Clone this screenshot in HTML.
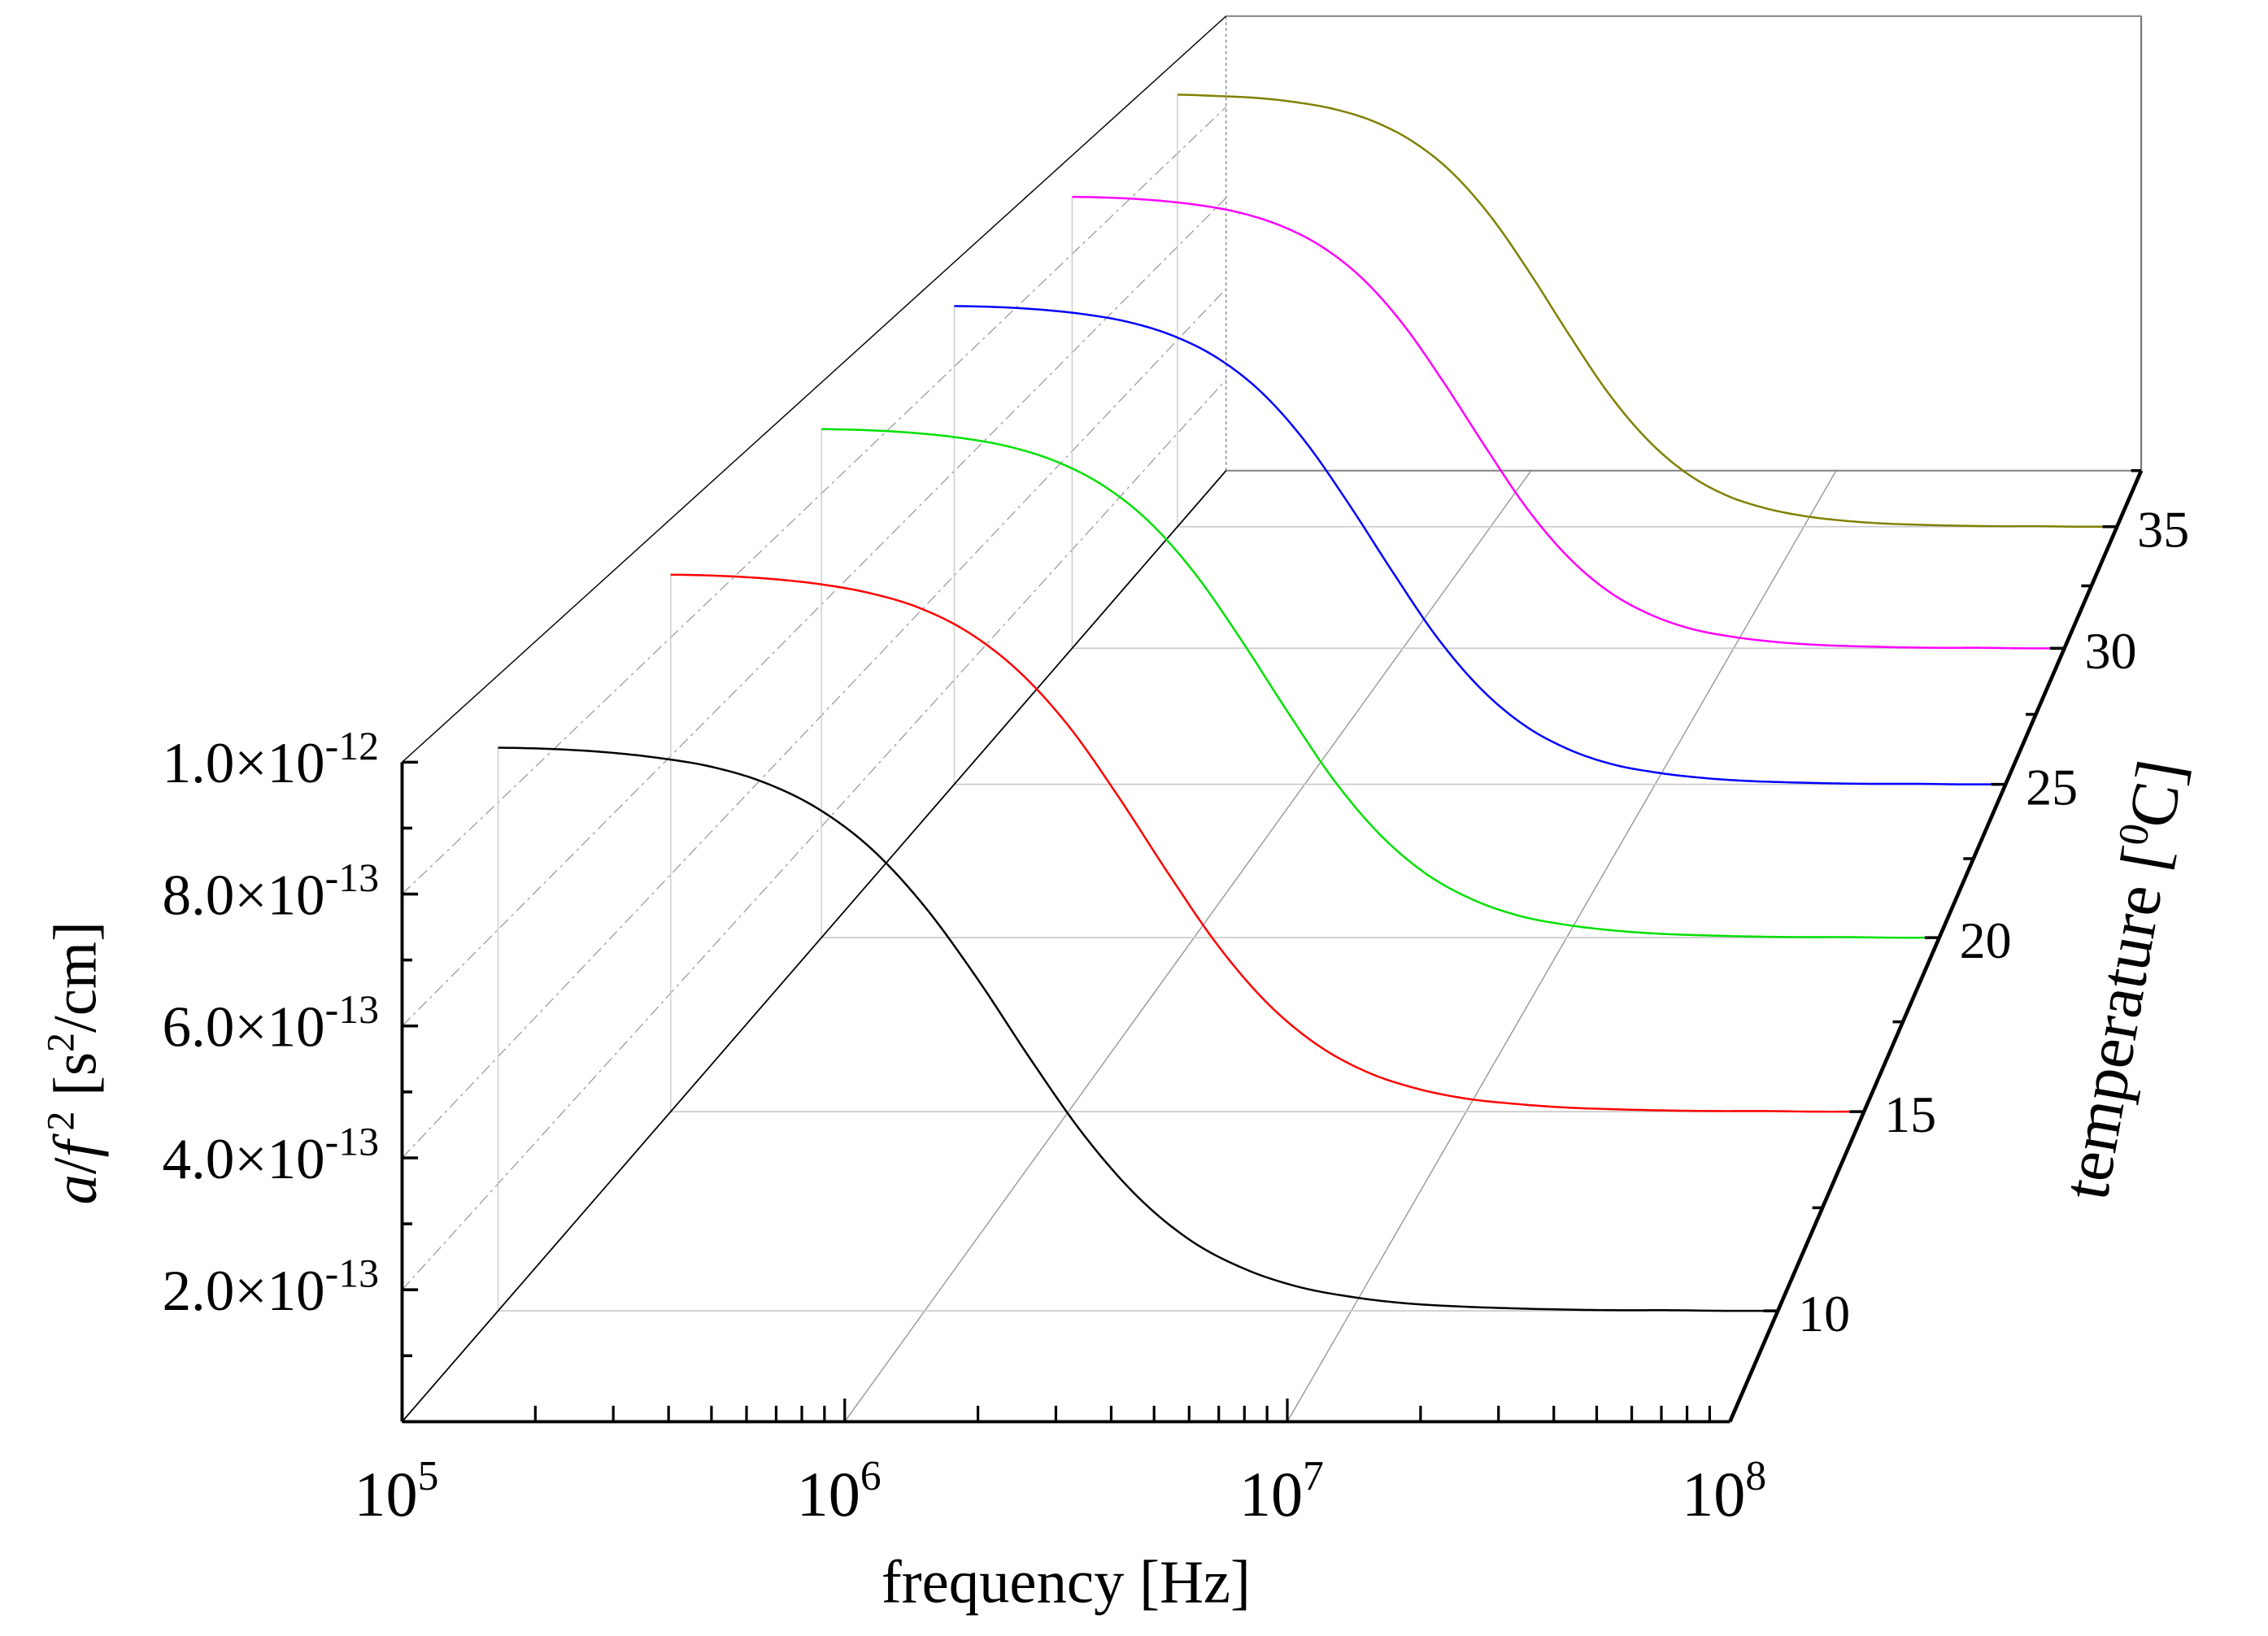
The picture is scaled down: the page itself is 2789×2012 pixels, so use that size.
<!DOCTYPE html>
<html><head><meta charset="utf-8"><style>
html,body{margin:0;padding:0;background:#fff;}
svg{display:block;}
text{font-family:"Liberation Serif",serif;fill:#000;font-style:normal;}
</style></head>
<body>
<svg id="chart" width="2789" height="2012" viewBox="0 0 1568 1131.2" preserveAspectRatio="none" xmlns="http://www.w3.org/2000/svg">
<g id="grid"></g>
<g id="frame"></g>
<g id="series"></g>
<g id="axes"></g>
<text x="737" y="1108" font-size="42" text-anchor="middle">frequency [Hz]</text>
<text transform="translate(66,735) rotate(-90)" font-size="42" text-anchor="middle"><tspan font-style="italic">a</tspan>/<tspan font-style="italic">f</tspan><tspan dy="-15" font-size="27"> 2</tspan><tspan dy="15"> [s</tspan><tspan dy="-15" font-size="27">2</tspan><tspan dy="15">/cm]</tspan></text>
<text transform="translate(1483,680) rotate(-80)" font-size="46" text-anchor="middle" font-style="normal">temperature [<tspan dy="-16" font-size="29">0</tspan><tspan dy="16">C]</tspan></text>
</svg>
<script>
// ---- data ----
const logFreq = [5.0,5.125,5.25,5.375,5.5,5.625,5.75,5.875,6.0,6.125,6.25,6.375,6.5,6.625,6.75,6.875,7.0,7.125,7.25,7.375,7.5,7.625,7.75,7.875,8.0];
const temperatures = [10,15,20,25,30,35];
const seriesColors = ["#000000","#ff0000","#00e000","#0000ff","#ff00ff","#808000"];
const seriesT10 = [8.86,8.84,8.79,8.70,8.56,8.31,7.90,7.27,6.36,5.21,3.94,2.75,1.79,1.10,0.66,0.38,0.22,0.12,0.07,0.04,0.02,0.01,0.01,0,0];
const seriesT15 = [9.06,9.04,8.99,8.90,8.75,8.50,8.08,7.43,6.51,5.32,4.03,2.81,1.83,1.13,0.67,0.39,0.22,0.13,0.07,0.04,0.02,0.01,0.01,0,0];
const seriesT20 = [9.16,9.14,9.09,9.00,8.85,8.59,8.17,7.52,6.58,5.38,4.08,2.84,1.85,1.14,0.68,0.39,0.23,0.13,0.07,0.04,0.02,0.01,0.01,0,0];
const seriesT25 = [9.16,9.14,9.09,9.00,8.85,8.59,8.17,7.52,6.58,5.38,4.08,2.84,1.85,1.14,0.68,0.39,0.23,0.13,0.07,0.04,0.02,0.01,0.01,0,0];
const seriesT30 = [9.16,9.14,9.09,9.00,8.85,8.59,8.17,7.52,6.58,5.38,4.08,2.84,1.85,1.14,0.68,0.39,0.23,0.13,0.07,0.04,0.02,0.01,0.01,0,0];
const seriesT35 = [9.26,9.23,9.19,9.10,8.95,8.69,8.26,7.60,6.65,5.44,4.12,2.87,1.87,1.15,0.68,0.40,0.23,0.13,0.07,0.04,0.02,0.01,0.01,0,0];
const yTickValues = [2,4,6,8,10];
const yTickLabels = ["2.0×10","4.0×10","6.0×10","8.0×10","1.0×10"];
const yTickExps = ["-13","-13","-13","-13","-12"];
const xDecades = [5,6,7,8];
const zTickLabels = ["10","15","20","25","30","35"];
// ---- axes ----
const NS="http://www.w3.org/2000/svg";
const VPX=2111, VPY=-1133, X0=278, XW=306, Y0=983, YH=456, TMIN=7.5, TMAX=37.5, K=0.01503;
function sc(T){return 1/(1+(T-TMIN)*K);}
function P(lf,v,T){const xf=X0+(lf-5)*XW, yf=Y0-v/10*YH, s=sc(T);return [VPX+s*(xf-VPX), VPY+s*(yf-VPY)];}
function mk(parent,tag,attrs){const e=document.createElementNS(NS,tag);for(const k in attrs)e.setAttribute(k,attrs[k]);parent.appendChild(e);return e;}
const grid=document.getElementById('grid'), frame=document.getElementById('frame'), axes=document.getElementById('axes'), ser=document.getElementById('series');
function line(g,a,b,st,w,dash){return mk(g,'line',{x1:a[0],y1:a[1],x2:b[0],y2:b[1],stroke:st,'stroke-width':w,'stroke-dasharray':dash||'none'});}
let l;
l=line(frame,P(5,0,TMAX),P(8,0,TMAX),'#888',1.2);

l=line(frame,P(5,10,TMAX),P(8,10,TMAX),'#888',1.2);

l=line(frame,P(5,0,TMAX),P(5,10,TMAX),'#999',1,'2,2');

l=line(frame,P(8,0,TMAX),P(8,10,TMAX),'#777',1.2);

l=line(frame,P(5,0,TMIN),P(5,0,TMAX),'#000',1);

l=line(frame,P(5,10,TMIN),P(5,10,TMAX),'#000',0.8);

yTickValues.forEach(v=>{const g=line(grid,P(5,v,TMIN),P(5,v,TMAX),'#999',0.7,'8,3,2,3');
});
[6,7].forEach(d=>{const g=line(grid,P(d,0,TMIN),P(d,0,TMAX),'#999',0.8);
});
temperatures.forEach((T,i)=>{const g=line(grid,P(5,0,T),P(8,0,T),'#ccc',1);
});
const allSeries=[seriesT10,seriesT15,seriesT20,seriesT25,seriesT30,seriesT35];
allSeries.forEach((vals,i)=>{const g=line(grid,P(5,0,temperatures[i]),P(5,vals[0],temperatures[i]),'#ccc',0.8);
});
allSeries.forEach((vals,i)=>{const T=temperatures[i];let pts=[];
for(let j=0;j<logFreq.length-1;j++){const p0=vals[Math.max(j-1,0)],p1=vals[j],p2=vals[j+1],p3=vals[Math.min(j+2,vals.length-1)];
for(let k=0;k<10;k++){const t=k/10;const v=0.5*((2*p1)+(-p0+p2)*t+(2*p0-5*p1+4*p2-p3)*t*t+(-p0+3*p1-3*p2+p3)*t*t*t);
const lf=logFreq[j]+(logFreq[j+1]-logFreq[j])*t;pts.push(P(lf,v,T));}}
pts.push(P(logFreq[logFreq.length-1],vals[vals.length-1],T));
const p=mk(ser,'polyline',{points:pts.map(q=>q[0].toFixed(2)+','+q[1].toFixed(2)).join(' '),fill:'none',stroke:seriesColors[i],'stroke-width':1.4});

});
l=line(axes,P(5,0,TMIN),P(5,10,TMIN),'#000',2.2);

for(let v=1;v<=10;v++){const a=P(5,v,TMIN);const len=(v%2===0)?11:7;
const t=line(axes,a,[a[0]+len,a[1]],'#000',2);}
yTickValues.forEach((v,i)=>{const a=P(5,v,TMIN);const tx=mk(axes,'text',{x:a[0]-16,y:a[1]+14,'font-size':40,'text-anchor':'end'});

tx.innerHTML=yTickLabels[i]+'<tspan dy="-16" font-size="28">'+yTickExps[i]+'</tspan>';});
l=line(axes,P(5,0,TMIN),P(8,0,TMIN),'#000',2.2);

for(let d=5;d<8;d++){for(let m=1;m<=9;m++){if(d===5&&m===1)continue;const a=P(d+Math.log10(m),0,TMIN);const len=(m===1)?16:11;
const t=line(axes,a,[a[0],a[1]-len],'#000',1.8);}}
xDecades.forEach(d=>{const a=P(d,0,TMIN);const tx=mk(axes,'text',{x:a[0]-4,y:a[1]+65,'font-size':44,'text-anchor':'middle'});

tx.innerHTML='10<tspan dy="-18" font-size="29">'+d+'</tspan>';});
l=line(axes,P(8,0,TMIN),P(8,0,TMAX),'#000',2.6);

for(let T=10;T<=37.5;T+=2.5){const a=P(8,0,T);const len=(T%5===0)?10:7;
const t=line(axes,[a[0]-len,a[1]],a,'#000',2);}
temperatures.forEach((T,i)=>{const a=P(8,0,T);const tx=mk(axes,'text',{x:a[0]+14,y:a[1]+14,'font-size':36});

tx.textContent=zTickLabels[i];});
</script>
</body></html>
